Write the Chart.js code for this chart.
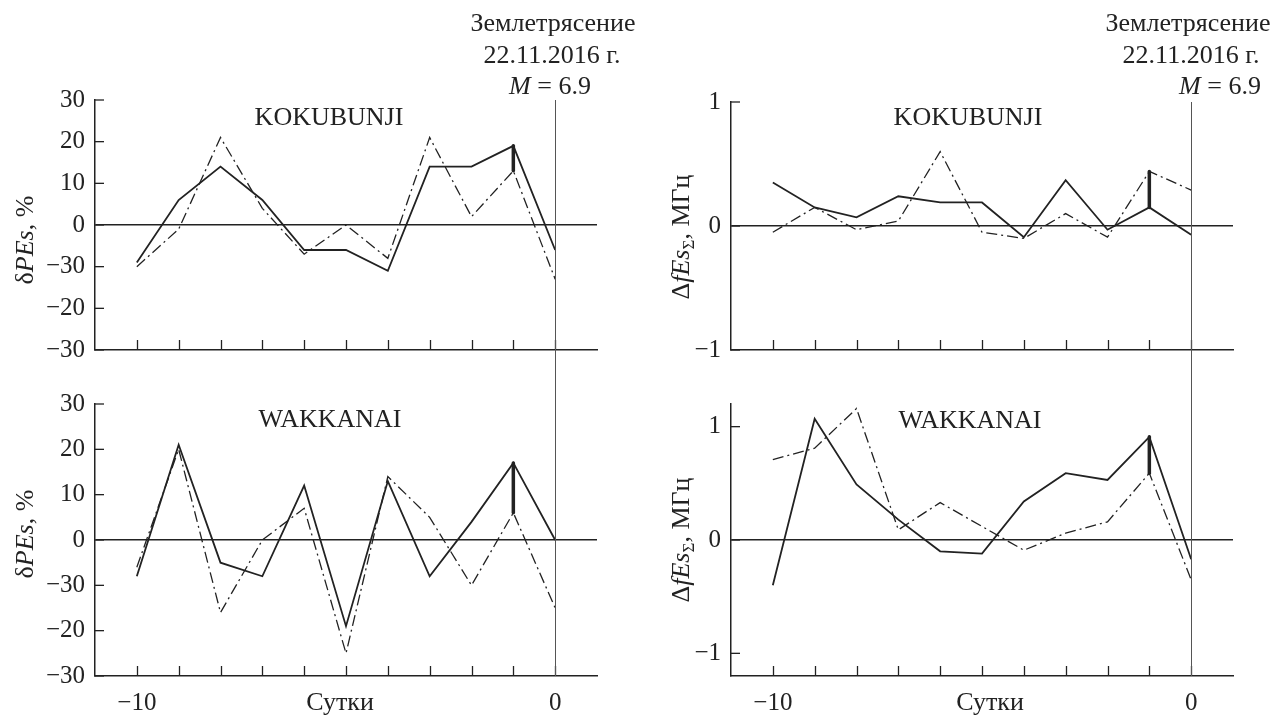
<!DOCTYPE html>
<html>
<head>
<meta charset="utf-8">
<script src="https://cdn.jsdelivr.net/npm/chart.js@4.4.1/dist/chart.umd.min.js"></script>
<style>
body { margin: 0; background: #fff; width: 1278px; height: 719px; overflow: hidden; position: relative;
       font-family: 'Liberation Serif', 'DejaVu Serif', serif; color: #222; }
.box { position: absolute; }
.txt { position: absolute; font-size: 26px; white-space: nowrap; transform: translate(-50%, -50%); line-height: 1; }
.ytl { position: absolute; font-size: 26px; white-space: nowrap; transform: translate(-50%, -50%) rotate(-90deg); line-height: 1; }
sub { font-size: 17px; vertical-align: -5px; }
</style>
</head>
<body>
<div class="box" style="left:0;top:0"><canvas id="lt" width="639" height="375"></canvas></div>
<div class="box" style="left:0;top:375px"><canvas id="lb" width="639" height="344"></canvas></div>
<div class="box" style="left:639px;top:0"><canvas id="rt" width="639" height="375"></canvas></div>
<div class="box" style="left:639px;top:375px"><canvas id="rb" width="639" height="344"></canvas></div>

<div class="txt" style="left:553px;top:23px">Землетрясение</div>
<div class="txt" style="left:552px;top:55px">22.11.2016 г.</div>
<div class="txt" style="left:550px;top:86px"><i>M</i> = 6.9</div>
<div class="txt" style="left:1188px;top:23px">Землетрясение</div>
<div class="txt" style="left:1191px;top:55px">22.11.2016 г.</div>
<div class="txt" style="left:1220px;top:86px"><i>M</i> = 6.9</div>

<div class="txt" style="left:329px;top:117px">KOKUBUNJI</div>
<div class="txt" style="left:330px;top:419px">WAKKANAI</div>
<div class="txt" style="left:968px;top:117px">KOKUBUNJI</div>
<div class="txt" style="left:970px;top:420px">WAKKANAI</div>

<div class="ytl" style="left:25px;top:240px">δ<i>PEs</i>, %</div>
<div class="ytl" style="left:25px;top:534px">δ<i>PEs</i>, %</div>
<div class="ytl" style="left:682px;top:237px">Δ<i>fEs</i><sub>Σ</sub>, МГц</div>
<div class="ytl" style="left:682px;top:540px">Δ<i>fEs</i><sub>Σ</sub>, МГц</div>

<div class="txt" style="left:340px;top:702px">Сутки</div>
<div class="txt" style="left:990px;top:702px">Сутки</div>

<script>
// дни до землетрясения
var days = [-10, -9, -8, -7, -6, -5, -4, -3, -2, -1, 0];

// δPEs, %
var kokPEsSolid = [-9, 6, 14, 6, -6, -6, -11, 14, 14, 19, -6];
var kokPEsDash  = [-10, -1, 21, 4, -7, 0, -8, 21, 2, 13, -13];
var wakPEsSolid = [-8, 21, -5, -8, 12, -19, 13, -8, 4, 17, 0];
var wakPEsDash  = [-6, 20, -16, 0, 7, -25, 14, 5, -10, 6, -15];

// ΔfEsΣ, МГц
var kokFEsSolid = [0.35, 0.15, 0.07, 0.24, 0.19, 0.19, -0.09, 0.37, -0.03, 0.15, -0.07];
var kokFEsDash  = [-0.05, 0.15, -0.03, 0.04, 0.6, -0.05, -0.1, 0.1, -0.09, 0.44, 0.29];
var wakFEsSolid = [-0.4, 1.07, 0.49, 0.18, -0.1, -0.12, 0.34, 0.59, 0.53, 0.91, -0.17];
var wakFEsDash  = [0.71, 0.81, 1.16, 0.09, 0.33, 0.12, -0.09, 0.06, 0.16, 0.59, -0.35];

// вертикальный отрезок за сутки до события
var spindleDay = -1;
var kokPEsSpindle = [13, 19];
var wakPEsSpindle = [6, 17];
var kokFEsSpindle = [0.15, 0.44];
var wakFEsSpindle = [0.59, 0.91];

// подписи осей (как в оригинале)
var pesTickValues = [-30, -20, -10, 0, 10, 20, 30];
var pesTickLabels = ['−30', '−20', '−30', '0', '10', '20', '30'];
var fesTickValues = [-1, 0, 1];
var fesTickLabels = ['−1', '0', '1'];
var xTickValues = [-10, 0];
var xTickLabels = ['−10', '0'];

var ink = '#222';
var tickFont = { family: 'Liberation Serif', size: 25 };

function pts(ys) {
    return ys.map(function (y, i) { return { x: days[i], y: y }; });
}

// внутренние засечки и линия землетрясения
var innerTicks = {
    id: 'innerTicks',
    afterDraw: function (chart, args, o) {
        var ctx = chart.ctx, xs = chart.scales.x, ys = chart.scales.y, a = chart.chartArea;
        ctx.save();
        ctx.strokeStyle = ink;
        ctx.lineWidth = 1.3;
        ys.ticks.forEach(function (t) {
            var y = ys.getPixelForValue(t.value);
            ctx.beginPath(); ctx.moveTo(a.left, y); ctx.lineTo(a.left + 9, y); ctx.stroke();
        });
        days.forEach(function (d) {
            var x = Math.round(xs.getPixelForValue(d)) + 0.5;
            ctx.beginPath(); ctx.moveTo(x, a.bottom); ctx.lineTo(x, a.bottom - 10); ctx.stroke();
        });
        var x0 = Math.round(xs.getPixelForValue(0)) + 0.5;
        ctx.strokeStyle = '#555';
        ctx.lineWidth = 1;
        ctx.beginPath();
        ctx.moveTo(x0, o.upper ? a.top : 0);
        ctx.lineTo(x0, o.upper ? chart.height : a.bottom);
        ctx.stroke();
        ctx.restore();
    }
};

function makePanel(id, solid, dash, spindle, yMin, yMax, yVals, yLabels, upper, padTop, padRight, yWidth) {
    new Chart(document.getElementById(id), {
        type: 'line',
        data: {
            datasets: [
                { data: pts(solid), borderColor: ink, borderWidth: 1.8, pointRadius: 0, tension: 0 },
                { data: pts(dash), borderColor: ink, borderWidth: 1.3, borderDash: [11, 4, 2, 4], pointRadius: 0, tension: 0 },
                { data: spindle.map(function (v) { return { x: spindleDay, y: v }; }),
                  borderColor: ink, borderWidth: 3.5, borderCapStyle: 'round', pointRadius: 0 }
            ]
        },
        options: {
            responsive: false,
            animation: false,
            events: [],
            layout: { padding: { top: padTop, right: padRight, left: 0, bottom: 0 } },
            plugins: { legend: { display: false }, tooltip: { enabled: false }, innerTicks: { upper: upper } },
            scales: {
                x: {
                    type: 'linear', min: -11, max: 1,
                    afterBuildTicks: function (s) { s.ticks = xTickValues.map(function (v) { return { value: v }; }); },
                    afterFit: function (s) { s.height = upper ? 2 : 43; },
                    grid: { display: false },
                    border: { color: ink, width: 1.5 },
                    ticks: {
                        display: !upper, color: ink, font: tickFont, padding: 4, maxRotation: 0, autoSkip: false,
                        callback: function (v) { return xTickLabels[xTickValues.indexOf(v)]; }
                    }
                },
                y: {
                    min: yMin, max: yMax,
                    afterBuildTicks: function (s) { s.ticks = yVals.map(function (v) { return { value: v }; }); },
                    afterFit: function (s) { s.width = yWidth; },
                    grid: {
                        drawTicks: false, lineWidth: 1.5,
                        color: function (c) { return c.tick && c.tick.value === 0 ? ink : 'rgba(0,0,0,0)'; }
                    },
                    border: { color: ink, width: 1.5 },
                    ticks: {
                        color: ink, font: tickFont, padding: 10, autoSkip: false,
                        callback: function (v) { return yLabels[yVals.indexOf(v)]; }
                    }
                }
            }
        },
        plugins: [innerTicks]
    });
}

makePanel('lt', kokPEsSolid, kokPEsDash, kokPEsSpindle, -30, 30, pesTickValues, pesTickLabels, true, 100, 42, 95);
makePanel('lb', wakPEsSolid, wakPEsDash, wakPEsSpindle, -30, 30, pesTickValues, pesTickLabels, false, 29, 42, 95);
makePanel('rt', kokFEsSolid, kokFEsDash, kokFEsSpindle, -1, 1, fesTickValues, fesTickLabels, true, 102, 45, 92);
makePanel('rb', wakFEsSolid, wakFEsDash, wakFEsSpindle, -1.2, 1.2, fesTickValues, fesTickLabels, false, 29, 45, 92);
</script>
</body>
</html>
